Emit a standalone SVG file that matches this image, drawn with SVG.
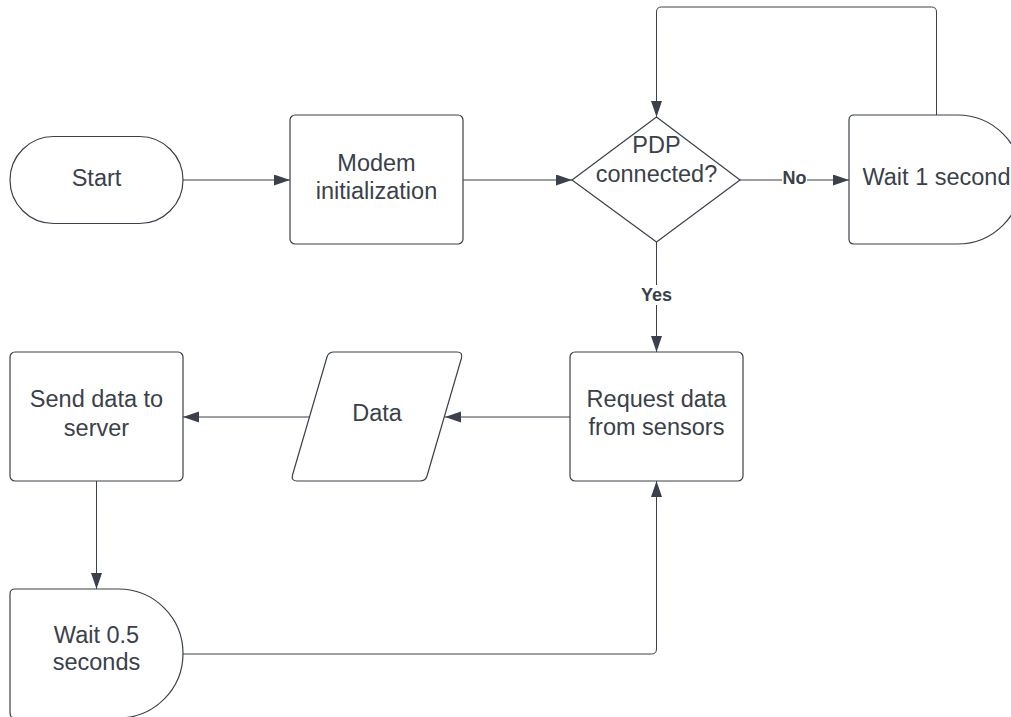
<svg xmlns="http://www.w3.org/2000/svg" width="1011" height="717" viewBox="0 0 1011 717">
<defs>
<marker id="arr" markerUnits="userSpaceOnUse" markerWidth="17" markerHeight="12" refX="16" refY="5.5" orient="auto">
<path d="M0,0 L16,5.5 L0,11 z" fill="#3a414a"/>
</marker>
<style>
.shape{fill:#ffffff;stroke:#3a414a;stroke-width:1.2;stroke-linejoin:round}
.conn{fill:none;stroke:#3a414a;stroke-width:1}
.t{font-family:"Liberation Sans",Arial,sans-serif;font-size:23.5px;fill:#3a414a;text-anchor:middle}
.lbl{font-family:"Liberation Sans",Arial,sans-serif;font-size:18px;font-weight:bold;fill:#3a414a;text-anchor:middle}
</style>
</defs>
<rect width="1011" height="717" fill="#ffffff"/>
<g id="connectors">
<path class="conn" d="M183,180 H290" marker-end="url(#arr)"/>
<path class="conn" d="M463,180 H572" marker-end="url(#arr)"/>
<path class="conn" d="M740,180 H849" marker-end="url(#arr)"/>
<path class="conn" d="M936.5,115 V12 Q936.5,7 931.5,7 H661.5 Q656.5,7 656.5,12 V117" marker-end="url(#arr)"/>
<path class="conn" d="M656.5,242 V352" marker-end="url(#arr)"/>
<path class="conn" d="M570,417 H445" marker-end="url(#arr)"/>
<path class="conn" d="M310,417 H183" marker-end="url(#arr)"/>
<path class="conn" d="M96.5,481 V589" marker-end="url(#arr)"/>
<path class="conn" d="M183,654 H651.5 Q656.5,654 656.5,649 V481" marker-end="url(#arr)"/>
<rect x="782" y="170" width="25" height="20" fill="#ffffff"/>
<text class="lbl" x="794.5" y="184">No</text>
<rect x="640" y="285" width="33" height="20" fill="#ffffff"/>
<text class="lbl" x="656.5" y="301">Yes</text>
</g>
<g id="start">
<rect class="shape" x="10" y="136.5" width="173" height="87" rx="43.5" ry="43.5"/>
<text class="t" x="96.5" y="186">Start</text>
</g>
<g id="modem">
<rect class="shape" x="290" y="115" width="173" height="129" rx="5"/>
<text class="t" x="376.5" y="171">Modem</text>
<text class="t" x="376.5" y="199">initialization</text>
</g>
<g id="pdp">
<polygon class="shape" points="656.5,117 740,180 656.5,242 572,180"/>
<text class="t" x="656.5" y="153">PDP</text>
<text class="t" x="656.5" y="181.5">connected?</text>
</g>
<g id="wait1">
<path class="shape" d="M854,115 H957.5 A64.5,64.5 0 0 1 957.5,244 H854 Q849,244 849,239 V120 Q849,115 854,115 Z"/>
<text class="t" x="936.5" y="185">Wait 1 second</text>
</g>
<g id="request">
<rect class="shape" x="570" y="352" width="173" height="129" rx="5"/>
<text class="t" x="656.5" y="406.5">Request data</text>
<text class="t" x="656.5" y="435">from sensors</text>
</g>
<g id="data">
<path class="shape" d="M334,352 H457 Q463,352 461.5,358 L427,476 Q425.5,481 420,481 H297 Q291,481 292.5,475 L327,357 Q328.5,352 334,352 Z"/>
<text class="t" x="377" y="421">Data</text>
</g>
<g id="send">
<rect class="shape" x="10" y="352" width="173" height="129" rx="5"/>
<text class="t" x="96.5" y="406.5">Send data to</text>
<text class="t" x="96.5" y="435.5">server</text>
</g>
<g id="wait05">
<path class="shape" d="M15,589 H118.5 A64.5,64.5 0 0 1 118.5,718 H15 Q10,718 10,713 V594 Q10,589 15,589 Z"/>
<text class="t" x="96.5" y="643">Wait 0.5</text>
<text class="t" x="96.5" y="670">seconds</text>
</g>
</svg>
